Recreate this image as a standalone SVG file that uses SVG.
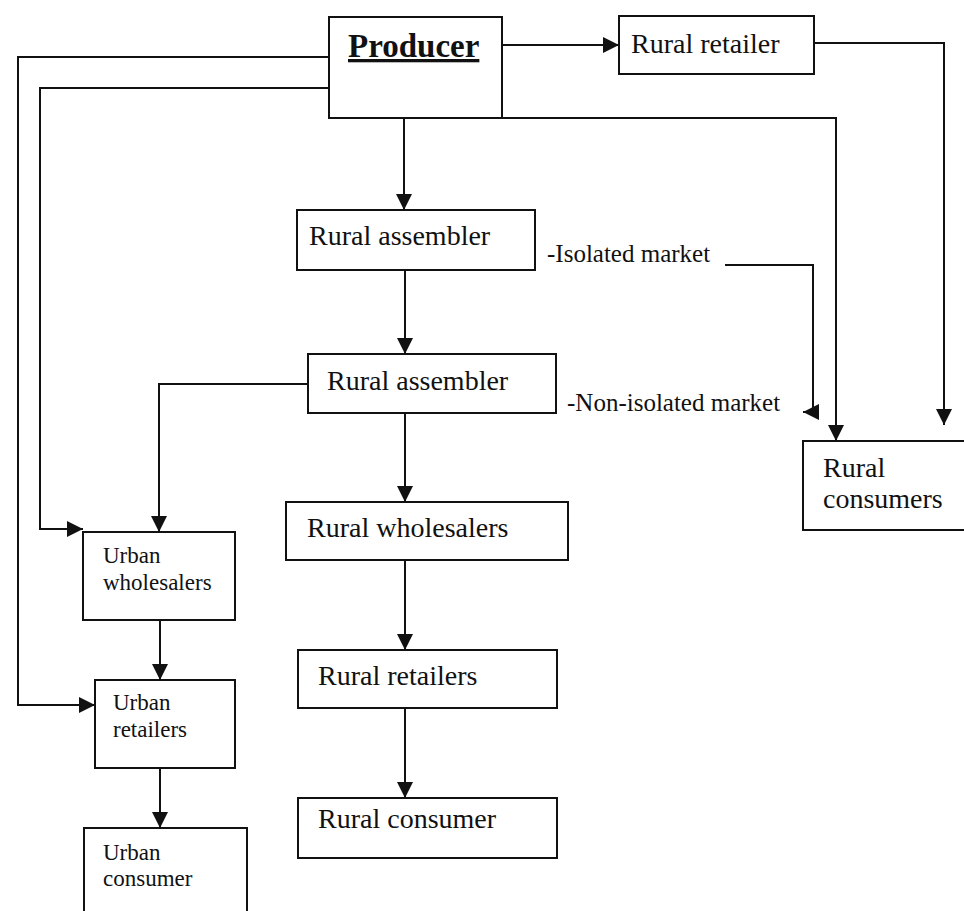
<svg xmlns="http://www.w3.org/2000/svg" width="964" height="911" viewBox="0 0 964 911">
<defs>
<style>
.box{fill:#fff;stroke:#111;stroke-width:2}
.ln{fill:none;stroke:#111;stroke-width:2}
.t{font-family:"Liberation Serif","Times New Roman",serif;fill:#111;font-size:28px}
.s{font-size:23px}
.m{font-size:25px}
</style>
<marker id="ah" markerUnits="userSpaceOnUse" markerWidth="16" markerHeight="16" refX="16" refY="8" orient="auto">
<path d="M0,0 L16,8 L0,16 z" fill="#111"/>
</marker>
</defs>
<rect width="964" height="911" fill="#fff"/>
<g id="connectors">
<path class="ln" d="M502,45 H619" marker-end="url(#ah)"/>
<path class="ln" d="M814,43 H944 V425" marker-end="url(#ah)"/>
<path class="ln" d="M502,118 H836 V441" marker-end="url(#ah)"/>
<path class="ln" d="M404,118 V210" marker-end="url(#ah)"/>
<path class="ln" d="M329,57 H18 V705 H95" marker-end="url(#ah)"/>
<path class="ln" d="M329,88 H40 V529 H83" marker-end="url(#ah)"/>
<path class="ln" d="M405,270 V354" marker-end="url(#ah)"/>
<path class="ln" d="M308,384 H159 V532" marker-end="url(#ah)"/>
<path class="ln" d="M405,413 V502" marker-end="url(#ah)"/>
<path class="ln" d="M405,560 V650" marker-end="url(#ah)"/>
<path class="ln" d="M405,708 V798" marker-end="url(#ah)"/>
<path class="ln" d="M160,620 V680" marker-end="url(#ah)"/>
<path class="ln" d="M160,768 V828" marker-end="url(#ah)"/>
<path class="ln" d="M725,265 H813 V412 H803" marker-end="url(#ah)"/>
</g>
<g id="producer">
<rect class="box" x="329" y="17" width="173" height="101"/>
<text class="t" x="348" y="57" font-size="33" font-weight="bold" text-decoration="underline" style="font-size:33px">Producer</text>
</g>
<g id="rural-retailer">
<rect class="box" x="619" y="16" width="195" height="58"/>
<text class="t" x="631" y="53">Rural retailer</text>
</g>
<g id="rural-assembler-1">
<rect class="box" x="297" y="210" width="238" height="60"/>
<text class="t" x="309" y="245">Rural assembler</text>
</g>
<g id="label-isolated">
<text class="t m" x="547" y="262">-Isolated market</text>
</g>
<g id="rural-assembler-2">
<rect class="box" x="308" y="354" width="248" height="59"/>
<text class="t" x="327" y="390">Rural assembler</text>
</g>
<g id="label-non-isolated">
<text class="t m" x="567" y="411">-Non-isolated market</text>
</g>
<g id="rural-consumers">
<rect class="box" x="803" y="441" width="170" height="89"/>
<text class="t" x="823" y="477">Rural</text>
<text class="t" x="823" y="508">consumers</text>
</g>
<g id="urban-wholesalers">
<rect class="box" x="83" y="532" width="152" height="88"/>
<text class="t s" x="103" y="563">Urban</text>
<text class="t s" x="103" y="590">wholesalers</text>
</g>
<g id="rural-wholesalers">
<rect class="box" x="286" y="502" width="282" height="58"/>
<text class="t" x="307" y="537">Rural wholesalers</text>
</g>
<g id="urban-retailers">
<rect class="box" x="95" y="680" width="140" height="88"/>
<text class="t s" x="113" y="710">Urban</text>
<text class="t s" x="113" y="737">retailers</text>
</g>
<g id="rural-retailers">
<rect class="box" x="298" y="650" width="259" height="58"/>
<text class="t" x="318" y="685">Rural retailers</text>
</g>
<g id="urban-consumer">
<path class="box" d="M84,915 V828 H247 V915"/>
<text class="t s" x="103" y="860">Urban</text>
<text class="t s" x="103" y="886">consumer</text>
</g>
<g id="rural-consumer">
<rect class="box" x="298" y="798" width="259" height="60"/>
<text class="t" x="318" y="828">Rural consumer</text>
</g>
</svg>
